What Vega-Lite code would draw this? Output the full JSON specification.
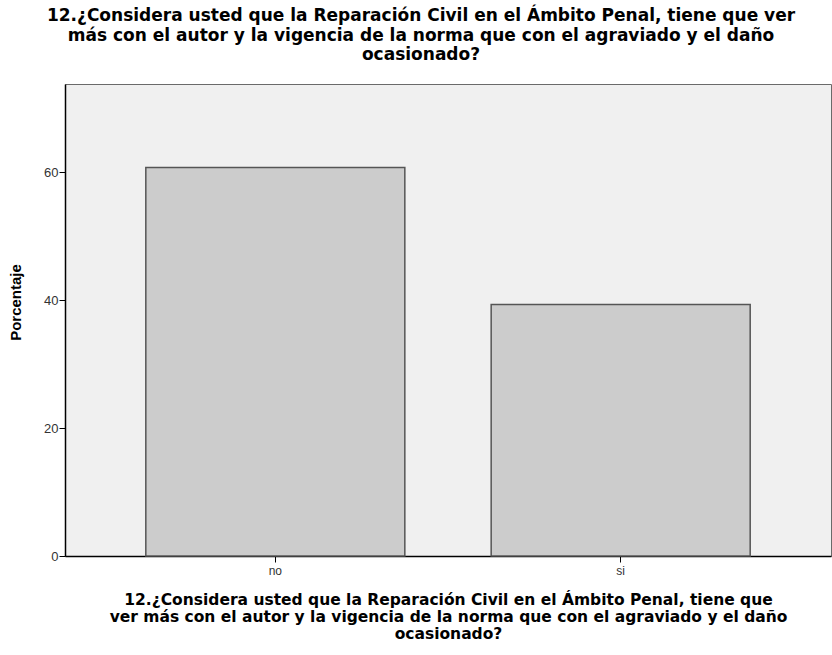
{
  "$schema": "https://vega.github.io/schema/vega-lite/v6.json",
  "autosize": "none",
  "width": 766,
  "height": 472,
  "padding": {"left": 65, "top": 84, "right": 1, "bottom": 99},
  "background": "white",
  "title": {
    "text": ["12.¿Considera usted que la Reparación Civil en el Ámbito Penal, tiene que ver", "más con el autor y la vigencia de la norma que con el agraviado y el daño", "ocasionado?"],
    "font": "DejaVu Sans",
    "fontSize": 17,
    "fontWeight": "bold",
    "lineHeight": 19.5,
    "color": "#000000",
    "anchor": "middle",
    "dx": -27,
    "offset": 20
  },
  "data": {"values": [
    {"respuesta": "no", "porcentaje": 60.7},
    {"respuesta": "si", "porcentaje": 39.3}
  ]},
  "mark": {"type": "bar", "fill": "#cccccc", "stroke": "#555555", "strokeWidth": 1.5},
  "encoding": {
    "x": {
      "field": "respuesta", "type": "nominal",
      "scale": {"paddingInner": 0.25, "paddingOuter": 0.234},
      "axis": {
        "title": ["12.¿Considera usted que la Reparación Civil en el Ámbito Penal, tiene que", "ver más con el autor y la vigencia de la norma que con el agraviado y el daño", "ocasionado?"],
        "titleFont": "DejaVu Sans", "titleFontSize": 15.5, "titleFontWeight": "bold", "titleLineHeight": 17, "titleColor": "#000000",
        "titlePadding": 16,
        "labelAngle": 0, "labelFont": "Liberation Sans", "labelFontSize": 12, "labelColor": "#333333", "labelPadding": 3,
        "tickSize": 6, "tickColor": "#000000", "domainColor": "#000000", "domainWidth": 1.5
      }
    },
    "y": {
      "field": "porcentaje", "type": "quantitative",
      "scale": {"domain": [0, 73.75], "nice": false},
      "axis": {
        "title": "Porcentaje",
        "titleFont": "Liberation Sans", "titleFontSize": 15, "titleFontWeight": "bold", "titleColor": "#000000",
        "titleY": 218, "titleX": -42,
        "values": [0, 20, 40, 60], "grid": false,
        "labelFont": "Liberation Sans", "labelFontSize": 13, "labelColor": "#333333", "labelPadding": 1,
        "tickSize": 6, "tickColor": "#000000", "domainColor": "#000000", "domainWidth": 1.5
      }
    }
  },
  "config": {
    "view": {"fill": "#f0f0f0", "stroke": "#6a6a6a", "strokeWidth": 1}
  }
}
